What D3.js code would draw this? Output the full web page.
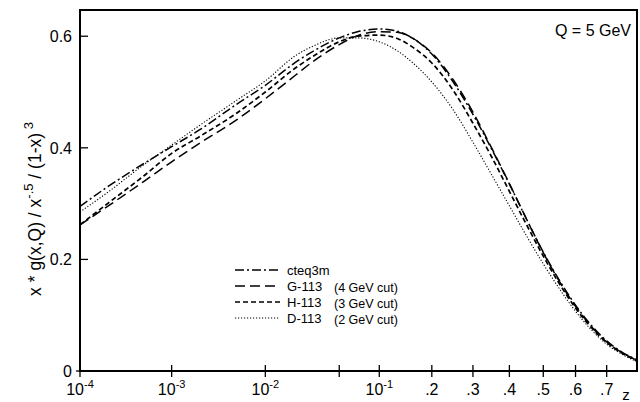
<!DOCTYPE html>
<html><head><meta charset="utf-8">
<script src="https://cdn.jsdelivr.net/npm/d3@7"></script>
<style>body{margin:0;background:#fff}svg{display:block}text{font-family:"Liberation Sans",Arial,sans-serif;fill:#000}</style>
</head><body><svg id="c" width="640" height="402"></svg>
<script>
const xs = [1e-4,2e-4,5e-4,1e-3,2e-3,5e-3,1e-2,2e-2,3e-2,5e-2,7e-2,0.1,0.13,0.16,0.2,0.25,0.3,0.35,0.4,0.45,0.5,0.55,0.6,0.65,0.7,0.75,0.8];
const cteq3m = [.295,.33,.372,.402,.432,.478,.512,.553,.574,.597,.608,.613,.609,.596,.568,.518,.46,.398,.335,.272,.213,.162,.118,.082,.054,.034,.02];
const g113 = [.262,.295,.34,.375,.408,.45,.488,.53,.556,.585,.601,.608,.607,.596,.57,.522,.464,.4,.336,.272,.212,.16,.116,.08,.052,.033,.019];
const h113 = [.262,.30,.35,.39,.42,.462,.5,.543,.565,.59,.6,.602,.596,.58,.552,.503,.444,.384,.322,.262,.206,.156,.113,.078,.051,.032,.018];
const d113 = [.285,.32,.37,.405,.44,.485,.52,.565,.583,.597,.597,.59,.574,.552,.518,.468,.41,.352,.296,.242,.192,.147,.107,.074,.048,.03,.017];
const seriesNames = ["cteq3m","G-113","H-113","D-113"];
const seriesNotes = ["","(4 GeV cut)","(3 GeV cut)","(2 GeV cut)"];
const xTicks = [1e-4,1e-3,1e-2,0.05,0.1,0.2,0.3,0.4,0.5,0.6,0.7];
const xTickLabels = [["10","-4"],["10","-3"],["10","-2"],null,["10","-1"],[".2"],[".3"],[".4"],[".5"],[".6"],[".7"]];
const yTicks = [0,0.2,0.4,0.6];
const yTickLabels = ["0","0.2","0.4","0.6"];

const svg = d3.select("#c");
const L=80,R=637,T=10,B=371;
const A = 2.737;
const xf = x => Math.log10(x) + A*x;
const xScale = d3.scaleLinear().domain([xf(1e-4), xf(0.8)]).range([L,R]);
const X = x => xScale(xf(x));
const y = d3.scaleLinear().domain([0,0.647]).range([B,T]);

const styles = [
  {dash:"9,3,2,3", w:1.5},
  {dash:"10,5", w:1.5},
  {dash:"5,3", w:1.7},
  {dash:"1.2,1.8", w:1.1}
];
const data = [cteq3m,g113,h113,d113];
const line = d3.line().x((d,i)=>X(xs[i])).y(d=>y(d)).curve(d3.curveMonotoneX);
data.forEach((s,k)=>{
  svg.append("path").attr("d",line(s)).attr("fill","none").attr("stroke","#000")
    .attr("stroke-width",styles[k].w).attr("stroke-dasharray",styles[k].dash);
});

// frame
svg.append("rect").attr("x",L).attr("y",T).attr("width",R-L).attr("height",B-T)
  .attr("fill","none").attr("stroke","#000").attr("stroke-width",2);

// y axis ticks
const yAx = svg.append("g");
yTicks.forEach((t,i)=>{
  yAx.append("line").attr("x1",L-(t===0?4:0)).attr("x2",L+8).attr("y1",y(t)).attr("y2",y(t)).attr("stroke","#000").attr("stroke-width",1.3);
  yAx.append("text").attr("x",72).attr("y",y(t)).attr("dy","0.36em").attr("text-anchor","end").attr("font-size",16).text(yTickLabels[i]);
});
// x axis ticks
const xAx = svg.append("g");
xTicks.forEach((t,i)=>{
  xAx.append("line").attr("x1",X(t)).attr("x2",X(t)).attr("y1",B-6).attr("y2",B+6).attr("stroke","#000").attr("stroke-width",1.3);
  const lab = xTickLabels[i];
  if(!lab) return;
  const tx = xAx.append("text").attr("x",X(t)).attr("y",395).attr("text-anchor","middle").attr("font-size",16);
  tx.append("tspan").text(lab[0]);
  if(lab[1]) tx.append("tspan").attr("dy",-7).attr("font-size",11).text(lab[1]);
});
svg.append("text").attr("x",626).attr("y",400).attr("text-anchor","middle").attr("font-size",15).text("z");

// y label
const yl = svg.append("text").attr("transform","translate(41,209) rotate(-90)").attr("text-anchor","middle").attr("font-size",17.5);
yl.append("tspan").text("x * g(x,Q) / x");
yl.append("tspan").attr("dy",-8).attr("font-size",13).text("-.5");
yl.append("tspan").attr("dy",8).text(" / (1-x)");
yl.append("tspan").attr("dy",-8).attr("font-size",13).text(" 3");

svg.append("text").attr("x",631).attr("y",36).attr("text-anchor","end").attr("font-size",16).text("Q = 5 GeV");

// legend
const rows = [270,286,302,318];
seriesNames.forEach((n,k)=>{
  svg.append("line").attr("x1",235).attr("x2",280).attr("y1",rows[k]).attr("y2",rows[k])
    .attr("stroke","#000").attr("stroke-width",styles[k].w).attr("stroke-dasharray",styles[k].dash);
  svg.append("text").attr("x",287).attr("y",rows[k]).attr("dy","0.36em").attr("font-size",13).text(n);
  if(seriesNotes[k]) svg.append("text").attr("x",334).attr("y",rows[k]+1).attr("dy","0.36em").attr("font-size",12.5).text(seriesNotes[k]);
});
</script></body></html>
